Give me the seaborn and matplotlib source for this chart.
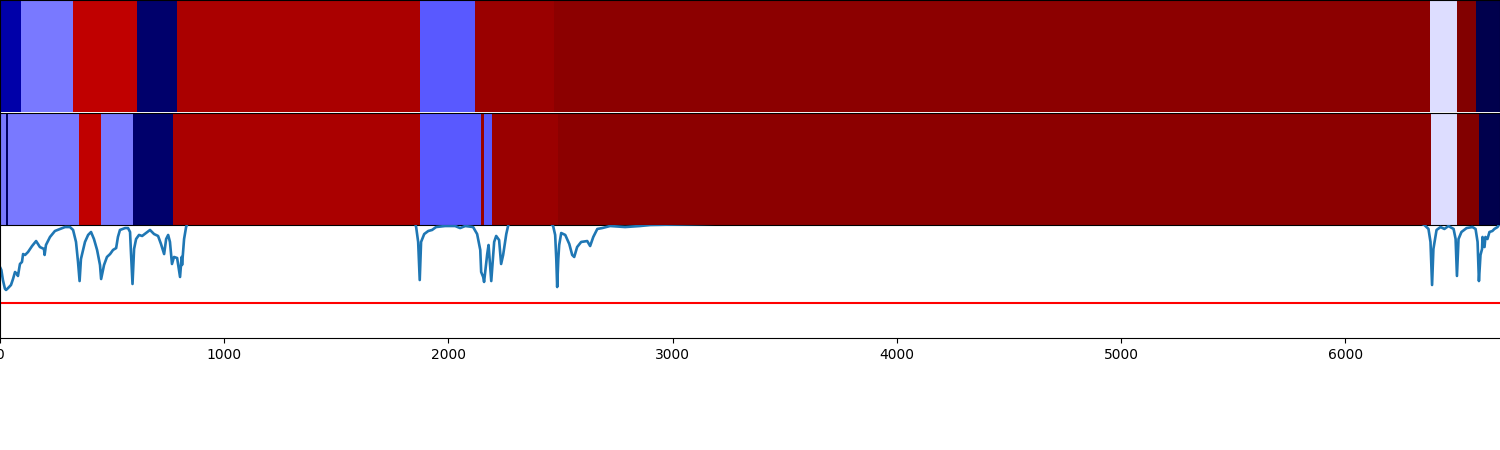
import numpy as np
import pandas as pd
import matplotlib
matplotlib.use("Agg")
import matplotlib.pyplot as plt
import seaborn as sns

top_lengths = [94, 232, 285, 179, 1084, 245, 353, 3908, 116, 85, 109]
top_levels = [0.131, 0.368, 0.873, 0.046, 0.917, 0.336, 0.946, 0.974, 0.467, 0.995, 0.0]

mid_lengths = [27, 7, 318, 99, 142, 179, 1102, 272, 13, 36, 295, 3894, 116, 98, 92]
mid_levels = [0.368, 0.03, 0.368, 0.873, 0.368, 0.046, 0.917, 0.336, 0.946, 0.336,
              0.946, 0.974, 0.467, 0.995, 0.0]

pos = [0, 6, 13, 22, 27, 36, 49, 58, 67, 76, 80, 89, 98, 103, 112, 125, 143, 161, 178, 196, 199,
       205, 223, 245, 268, 290, 312, 326, 339, 348, 355, 361, 379, 393, 406, 419, 433, 446, 451,
       464, 477, 491, 504, 518, 526, 535, 558, 571, 580, 584, 591, 598, 607, 620, 634, 651, 669,
       687, 705, 718, 732, 741, 750, 758, 767, 776, 790, 803, 810, 812, 821, 830, 839, 900,
       1840, 1847, 1856, 1865, 1872, 1878, 1892, 1910, 1927, 1945, 1985, 2030, 2052, 2075, 2110,
       2128, 2142, 2146, 2155, 2159, 2173, 2179, 2191, 2204, 2213, 2226, 2235, 2244, 2258, 2266,
       2275, 2440, 2467, 2476, 2481, 2485, 2490, 2494, 2503, 2521, 2539, 2552, 2561, 2574, 2592,
       2619, 2632, 2646, 2664, 2686, 2704, 2721, 2788, 2855, 2900, 3200, 4595, 4700, 5000, 6300, 6353,
       6371, 6380, 6387, 6393, 6407, 6425, 6442, 6460, 6483, 6492, 6498, 6505, 6518, 6541, 6567,
       6581, 6590, 6596, 6603, 6610, 6612, 6621, 6625, 6634, 6643, 6656, 6665, 6679, 6690]
score = [.628, .602, .513, .436, .425, .442, .469, .522, .584, .566, .549, .655, .673, .743, .735,
         .761, .814, .858, .805, .788, .735, .823, .894, .947, .965, .982, .982, .956, .850, .673,
         .504, .699, .850, .912, .938, .876, .779, .646, .522, .646, .717, .743, .779, .796, .894,
         .956, .973, .973, .938, .761, .478, .788, .876, .912, .903, .929, .956, .920, .903, .832,
         .743, .876, .912, .850, .655, .717, .708, .540, .717, .646, .876, .982, 1.03, 1.2,
         1.2, 1.05, .982, .850, .513, .850, .920, .947, .956, .982, .991, .991, .973, .991, .982,
         .920, .779, .584, .540, .496, .743, .823, .504, .850, .903, .867, .655, .735, .920, .991,
         1.05, 1.05, .991, .912, .699, .451, .699, .823, .929, .912, .832, .735, .717, .805, .850,
         .858, .814, .894, .965, .973, .982, .991, .982, .991, 1.0, 1.012, 1.012, 1.05, 1.1, 1.05, 1.0,
         .965, .850, .469, .788, .956, .982, .965, .991, .965, .876, .549, .876, .938, .973, .982,
         .965, .850, .504, .735, .788, .894, .805, .894, .876, .938, .947, .965, .982, 1.02]
threshold = 0.31
x_ticks = [0, 1000, 2000, 3000, 4000, 5000, 6000]
x_end = 6690

sns.set_style("ticks")
plt.rcParams["font.family"] = ["DejaVu Sans"]

W, H = 1500, 450
fig = plt.figure(figsize=(W / 100, H / 100), dpi=100, facecolor="white")


def axes_between(y0, y1):
    return fig.add_axes([0, 1 - y1 / H, 1, (y1 - y0) / H])


ax_top = axes_between(0, 112)
ax_mid = axes_between(113, 225)
ax_line = axes_between(225, 338)
ax_line.patch.set_alpha(0)

for ax, lengths, levels in [(ax_top, top_lengths, top_levels), (ax_mid, mid_lengths, mid_levels)]:
    row = np.repeat(levels, lengths)[None, :]
    sns.heatmap(row, ax=ax, cmap="seismic", vmin=0, vmax=1, cbar=False,
                xticklabels=False, yticklabels=False, rasterized=True)
    ax.set_xlim(0, x_end)
    ax.tick_params(left=False, bottom=False)
    for s in ax.spines.values():
        s.set_visible(True)
        s.set_color("black")
        s.set_linewidth(0.8)
ax_top.spines["bottom"].set_visible(False)

df = pd.DataFrame({"pos": pos, "score": score})
sns.lineplot(data=df, x="pos", y="score", ax=ax_line, color="#1f77b4", linewidth=1.9,
             estimator=None, errorbar=None)
ax_line.axhline(threshold, color="red", linewidth=1.5)
ax_line.set_xlim(0, x_end)
ax_line.set_ylim(0, 1)
ax_line.set_xticks(x_ticks)
ax_line.set_yticks([])
ax_line.set_xlabel("")
ax_line.set_ylabel("")
ax_line.tick_params(axis="x", labelsize=10, color="black", labelcolor="black", length=3.5, width=0.8)
ax_line.spines["top"].set_visible(False)
ax_line.spines["right"].set_visible(False)
ax_line.spines["left"].set_color("black")
ax_line.spines["bottom"].set_color("black")
ax_line.spines["left"].set_linewidth(0.8)
ax_line.spines["bottom"].set_linewidth(0.8)

fig.savefig("out.png", dpi=100, facecolor="white")
